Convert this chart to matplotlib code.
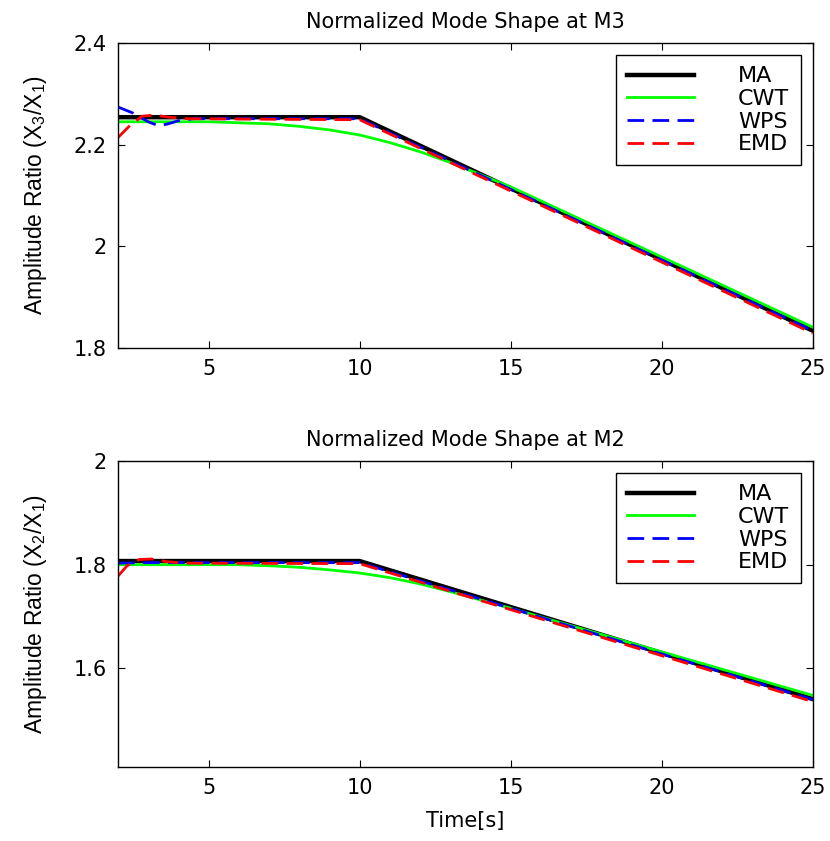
import matplotlib
matplotlib.use("Agg")
import matplotlib.pyplot as plt

# ---- datos ----
# M3 (panel superior)
t_ma_m3 = [2, 10, 25]
ma_m3 = [2.254, 2.254, 1.834]

t_cwt_m3 = [2, 5, 7, 8, 9, 10, 11, 12, 13, 14, 15, 25]
cwt_m3 = [2.245, 2.245, 2.241, 2.236, 2.229, 2.219, 2.204, 2.186, 2.165, 2.141, 2.117, 1.841]

t_wps_m3 = [2, 2.5, 3, 3.3, 3.6, 4, 4.5, 10, 25]
wps_m3 = [2.274, 2.262, 2.245, 2.238, 2.240, 2.247, 2.251, 2.251, 1.834]

t_emd_m3 = [2, 2.4, 2.8, 3.2, 3.7, 4.3, 10, 25]
emd_m3 = [2.214, 2.238, 2.256, 2.258, 2.254, 2.251, 2.249, 1.829]

# M2 (panel inferior)
t_ma_m2 = [2, 10, 25]
ma_m2 = [1.807, 1.807, 1.541]

t_cwt_m2 = [2, 6, 7, 8, 9, 10, 11, 12, 13, 14, 15, 25]
cwt_m2 = [1.800, 1.800, 1.798, 1.795, 1.790, 1.784, 1.775, 1.763, 1.748, 1.732, 1.716, 1.548]

t_wps_m2 = [2, 3, 10, 25]
wps_m2 = [1.803, 1.804, 1.804, 1.540]

t_emd_m2 = [2, 2.3, 2.7, 3.1, 3.6, 4.2, 10, 25]
emd_m2 = [1.778, 1.798, 1.810, 1.811, 1.806, 1.803, 1.802, 1.536]

etiquetas = ['MA', 'CWT', 'WPS', 'EMD']

plt.rcParams['font.family'] = ['DejaVu Sans']
plt.rcParams['mathtext.fontset'] = 'custom'
plt.rcParams['mathtext.rm'] = 'Liberation Sans'
plt.rcParams['mathtext.it'] = 'Liberation Sans'

fig = plt.figure(figsize=(8.3, 8.41), dpi=100)
ax1 = fig.add_axes([0.1422, 0.5862, 0.837, 0.3627])
ax2 = fig.add_axes([0.1422, 0.088, 0.837, 0.3639])


def dibujar(ax, datos, titulo, ylabel, ylim, yticks):
    (t_ma, ma), (t_cwt, cwt), (t_wps, wps), (t_emd, emd) = datos
    ax.plot(t_ma, ma, '-', color='black', lw=3.2, label=etiquetas[0])
    ax.plot(t_cwt, cwt, '-', color='#00ff00', lw=2, label=etiquetas[1])
    ax.plot(t_wps, wps, '--', color='#0000ff', lw=2, dashes=(6, 3), label=etiquetas[2])
    ax.plot(t_emd, emd, '--', color='#ff0000', lw=2, dashes=(6, 3), label=etiquetas[3])
    ax.set_xlim(2, 25)
    ax.set_ylim(*ylim)
    ax.set_xticks([5, 10, 15, 20, 25])
    ax.set_yticks(yticks)
    ax.set_yticklabels([('%g' % v) for v in yticks])
    ax.tick_params(direction='in', top=True, right=True, length=5, pad=8, labelsize=15)
    ax.set_title(titulo, fontsize=15, pad=11)
    ax.set_ylabel(ylabel, fontsize=16.5, labelpad=18, family='Liberation Sans')
    for s in ax.spines.values():
        s.set_linewidth(1)
    leg = ax.legend(loc='upper right', fancybox=False, edgecolor='black', framealpha=1,
                    handlelength=3.0, handletextpad=2.0, borderpad=0.5, labelspacing=0.12,
                    fontsize=16, borderaxespad=0.55)
    leg.get_frame().set_linewidth(1)


dibujar(ax1, [(t_ma_m3, ma_m3), (t_cwt_m3, cwt_m3), (t_wps_m3, wps_m3), (t_emd_m3, emd_m3)],
        'Normalized Mode Shape at M3', r'Amplitude Ratio (X$_3$/X$_1$)', (1.8, 2.4), [1.8, 2.0, 2.2, 2.4])
dibujar(ax2, [(t_ma_m2, ma_m2), (t_cwt_m2, cwt_m2), (t_wps_m2, wps_m2), (t_emd_m2, emd_m2)],
        'Normalized Mode Shape at M2', r'Amplitude Ratio (X$_2$/X$_1$)', (1.41, 2.0), [1.6, 1.8, 2.0])
ax2.set_xlabel('Time[s]', fontsize=15, labelpad=9)

fig.savefig('out.png', dpi=100)
